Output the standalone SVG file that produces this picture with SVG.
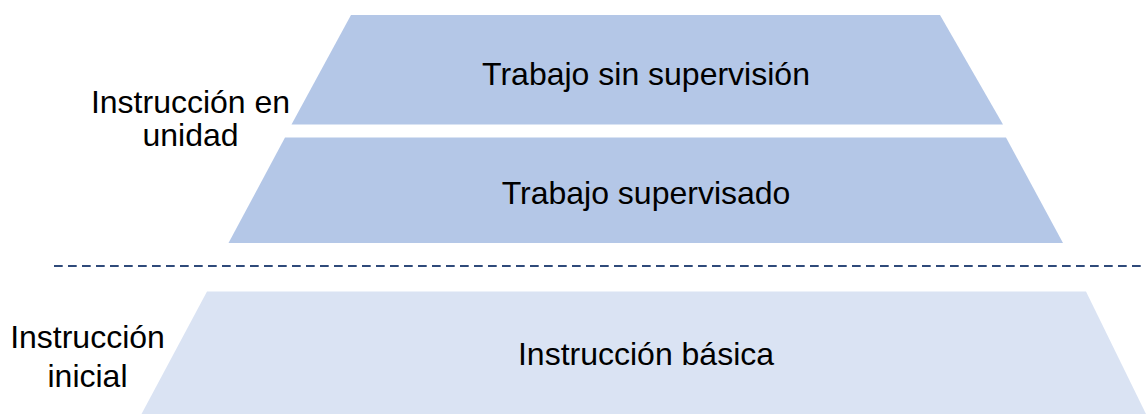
<svg xmlns="http://www.w3.org/2000/svg" width="1146" height="414" viewBox="0 0 1146 414">
<style>
.t{font-family:"Liberation Sans",Arial,sans-serif;font-size:32px;fill:#000;text-anchor:middle}
.dark{fill:#B4C7E7}
.light{fill:#DAE3F3}
</style>
<rect width="1146" height="414" fill="#fff"/>
<g id="level-top">
<polygon class="dark" points="351,15 940,15 1003,124.5 291.5,124.5"/>
<text class="t" x="646" y="84.5">Trabajo sin supervisión</text>
</g>
<g id="level-middle">
<polygon class="dark" points="285,137.5 1006,137.5 1063,243 228.5,243"/>
<text class="t" x="646" y="203.5">Trabajo supervisado</text>
</g>
<g id="level-bottom">
<polygon class="light" points="207,291.5 1086,291.5 1146,414 141.5,414"/>
<text class="t" x="646" y="365">Instrucción básica</text>
</g>
<g id="label-unidad">
<text class="t" x="190.5" y="113">Instrucción en</text>
<text class="t" x="190.5" y="146">unidad</text>
</g>
<g id="label-inicial">
<text class="t" x="87.5" y="348">Instrucción</text>
<text class="t" x="87.5" y="387">inicial</text>
</g>
<g id="connectors">
<line x1="54" y1="266" x2="1146" y2="266" stroke="#2F4A7A" stroke-width="2" stroke-dasharray="8.7 5.3"/>
</g>
</svg>
